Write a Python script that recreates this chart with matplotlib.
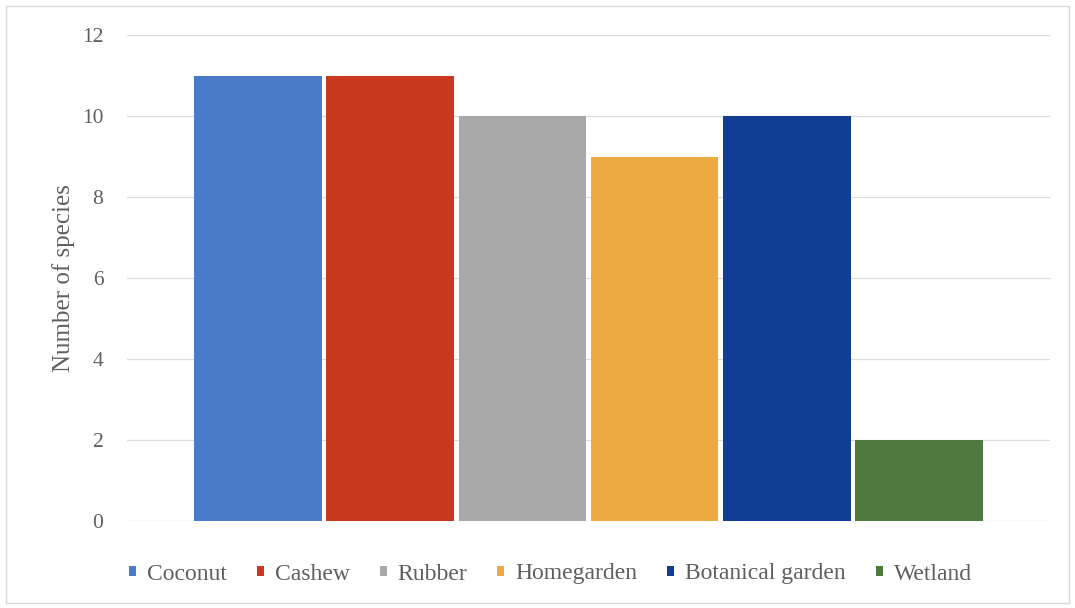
import matplotlib.pyplot as plt
from matplotlib.patches import Rectangle

# Species count per land-use type
habitats = ['Coconut', 'Cashew', 'Rubber', 'Homegarden', 'Botanical garden', 'Wetland']
species = [11, 11, 10, 9, 10, 2]
colors = ['#4a7bc8', '#c8391d', '#a9a9a9', '#eeaa42', '#123d95', '#4e7a40']
yticks = [0, 2, 4, 6, 8, 10, 12]

plt.rcParams['font.family'] = ['Liberation Serif', 'DejaVu Serif']
text_color = '#5f5f5f'

fig = plt.figure(figsize=(10.75, 6.08), dpi=100)
ax = fig.add_axes([127 / 1075, 1 - 521 / 608, (1050 - 127) / 1075, (521 - 35) / 608])

for i, (name, val, col) in enumerate(zip(habitats, species, colors)):
    ax.bar(i, val, width=0.965, color=col, label=name, zorder=2)

ax.set_xlim(-0.99, 5.99)
ax.set_ylim(0, 12)
ax.set_yticks(yticks)
ax.set_xticks([])
ax.grid(axis='y', color='#dcdcdc', linewidth=0.9, zorder=0)
for s in ax.spines.values():
    s.set_visible(False)
ax.tick_params(axis='y', length=0, pad=17, labelsize=15.5, labelcolor=text_color)
ax.set_ylabel('Number of species', fontsize=18, color=text_color, labelpad=5)

leg = fig.legend(loc='center', bbox_to_anchor=(0.512, 1 - 574 / 608), ncol=6,
                 frameon=False, fontsize=17, handlelength=0.3, handleheight=0.3,
                 handletextpad=0.45, columnspacing=1.28)
for t in leg.get_texts():
    t.set_color(text_color)

# thin outer frame round the chart
fig.patches.append(Rectangle((6 / 1075, 5 / 608), 1063 / 1075, 597 / 608,
                             transform=fig.transFigure, fill=False,
                             edgecolor='#d9d9d9', linewidth=1))

fig.savefig('out.png', dpi=100)
